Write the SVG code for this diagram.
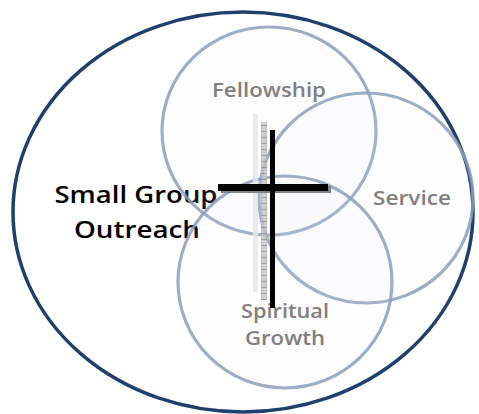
<svg xmlns="http://www.w3.org/2000/svg" width="479" height="414" viewBox="0 0 479 414">
<style>
.ring{fill:#e4e8ee;fill-opacity:0.08;stroke:#8c9fbb;stroke-width:3.2;stroke-opacity:0.85}
.lbl{font-family:"Open Sans","Noto Sans",sans-serif;font-weight:600;font-size:20px;fill:#808080;text-anchor:middle}
.main{font-family:"Open Sans","Noto Sans",sans-serif;font-weight:600;font-size:24px;fill:#000;text-anchor:middle}
</style>
<defs>
<pattern id="tick" width="6" height="6" patternUnits="userSpaceOnUse">
<rect width="6" height="6" fill="#c4c4c4"/>
<line x1="0" y1="5.5" x2="6" y2="5.5" stroke="#8a8a8a" stroke-width="1"/>
<line x1="3" y1="0" x2="3" y2="6" stroke="#9a9a9a" stroke-width="0.6"/>
</pattern>
</defs>
<rect width="479" height="414" fill="#fff"/>
<g id="outreach">
<ellipse cx="243" cy="212" rx="230" ry="200" fill="none" stroke="#1f3f6e" stroke-width="3.5"/>
<text class="main" x="136" y="203" textLength="163" lengthAdjust="spacingAndGlyphs">Small Group</text>
<text class="main" x="137" y="238" textLength="126" lengthAdjust="spacingAndGlyphs">Outreach</text>
</g>
<g id="fellowship">
<ellipse class="ring" cx="269" cy="131" rx="107" ry="104"/>
<text class="lbl" x="269" y="97" textLength="114" lengthAdjust="spacingAndGlyphs">Fellowship</text>
</g>
<g id="service">
<ellipse class="ring" cx="366" cy="198" rx="107" ry="105"/>
<text class="lbl" x="412" y="205" textLength="78" lengthAdjust="spacingAndGlyphs">Service</text>
</g>
<g id="spiritual">
<ellipse class="ring" cx="285" cy="282" rx="107" ry="106"/>
<text class="lbl" x="285" y="318" textLength="88" lengthAdjust="spacingAndGlyphs">Spiritual</text>
<text class="lbl" x="285" y="345" textLength="80" lengthAdjust="spacingAndGlyphs">Growth</text>
</g>
<g id="cross">
<rect x="253" y="114" width="5" height="178" fill="#e6e6e6" opacity="0.8"/>
<rect x="261" y="122" width="6" height="178" fill="url(#tick)" opacity="0.8"/>
<rect x="221" y="186" width="110" height="7" fill="#808080"/>
<rect x="218" y="184" width="110" height="7" fill="#000"/>
<rect x="270" y="130" width="5" height="178" fill="#000"/>
</g>
<g id="connectors"/>
</svg>
